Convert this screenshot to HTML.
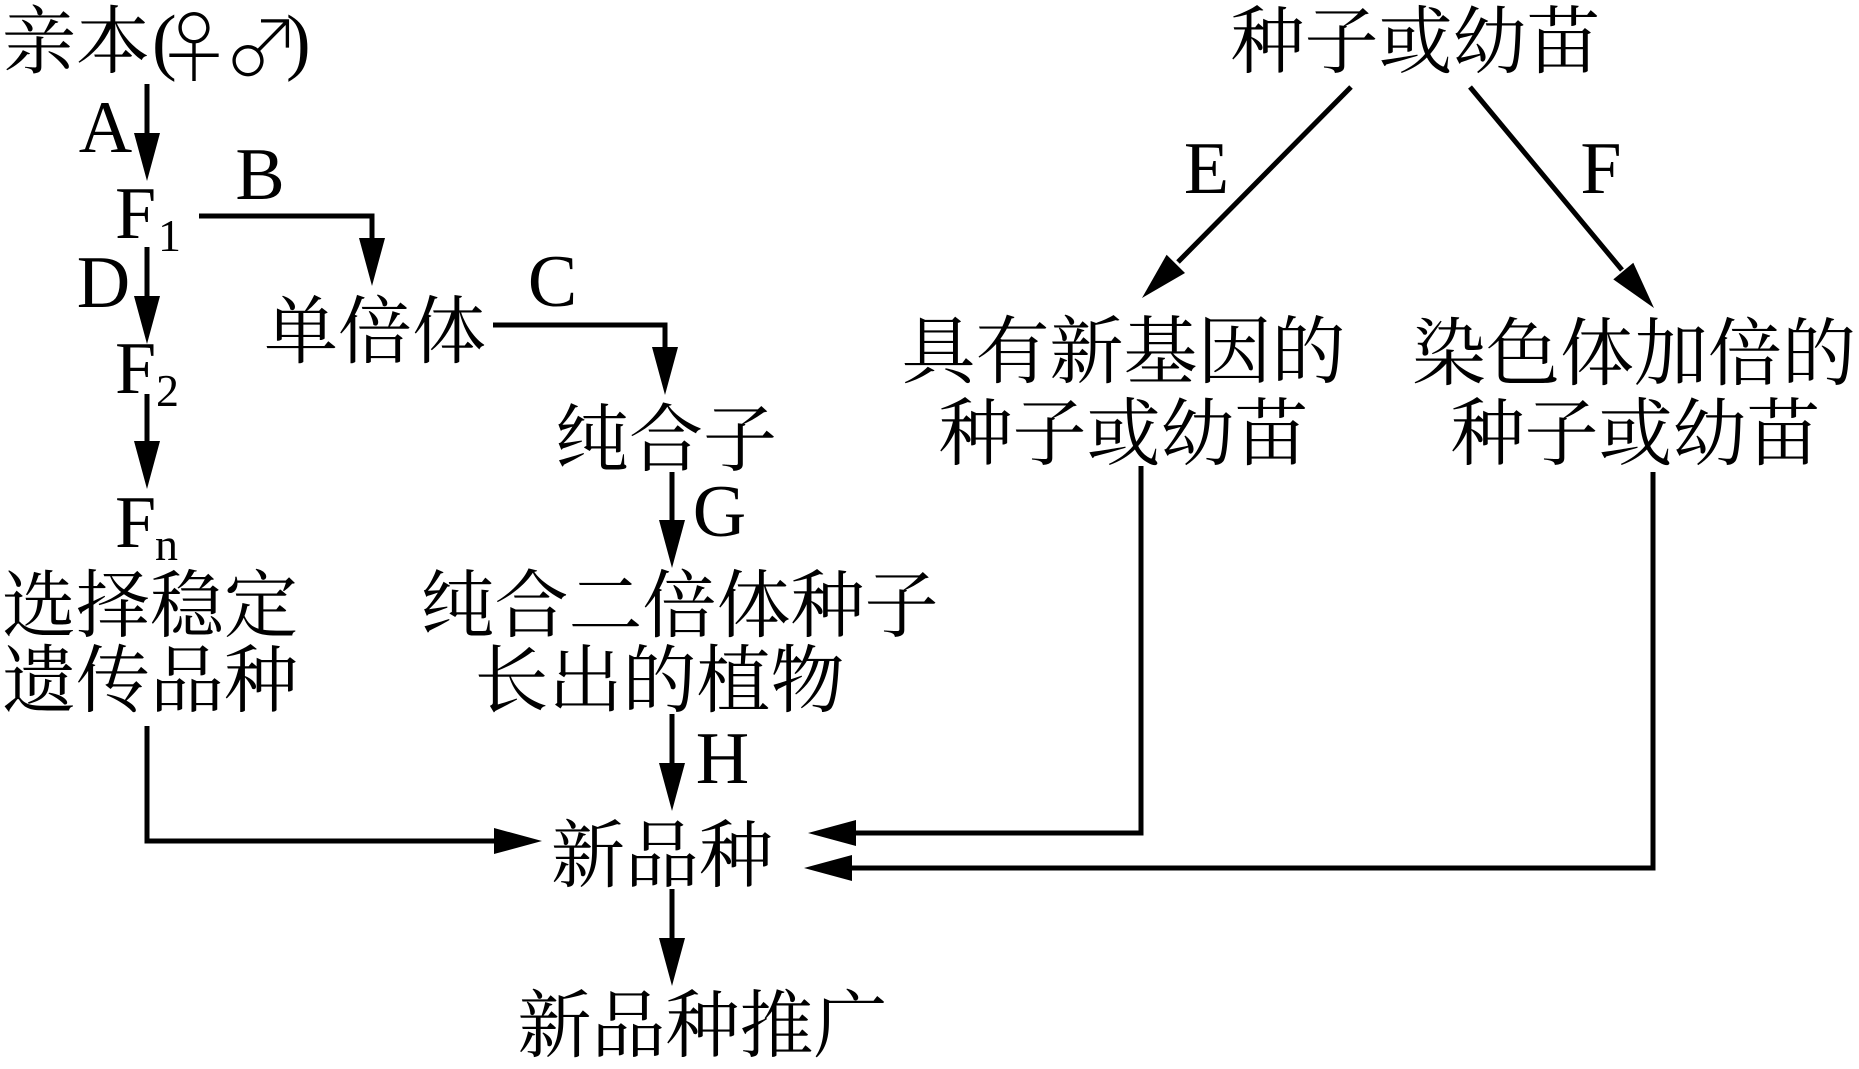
<!DOCTYPE html>
<html>
<head>
<meta charset="utf-8">
<style>
  html, body { margin:0; padding:0; background:#fff; }
  svg { display:block; }
  .cjk { font-family: "Liberation Serif", "Noto Serif CJK SC", serif; font-size:74px; fill:#000; }
  .lat { font-family: "Liberation Serif", serif; font-size:74px; fill:#000; }
  .sub { font-family: "Liberation Serif", serif; font-size:46px; fill:#000; }
  .sym { font-family: "Noto Serif CJK SC", "DejaVu Sans", serif; font-size:78px; fill:#000; }
</style>
</head>
<body>
<svg width="1859" height="1069" viewBox="0 0 1859 1069" xmlns="http://www.w3.org/2000/svg">
  <rect width="1859" height="1069" fill="#fff"/>

  <!-- ===== Left column ===== -->
  <text class="cjk" x="2" y="67">亲本</text>
  <text class="lat" x="152" y="66">(</text>
  <text class="sym" x="194" y="76" text-anchor="middle">♀</text>
  <text class="sym" x="262" y="76" text-anchor="middle">♂</text>
  <text class="lat" x="286" y="66">)</text>

  <!-- A arrow -->
  <line x1="147" y1="84" x2="147" y2="140" stroke="#000" stroke-width="5"/>
  <polygon points="134,133 160,133 147,181" fill="#000"/>
  <text class="lat" x="105.5" y="152" text-anchor="middle">A</text>

  <!-- F1 -->
  <text class="lat" x="115" y="238">F</text>
  <text class="sub" x="158" y="251">1</text>

  <!-- B arrow -->
  <polyline points="199,216 372,216 372,244" fill="none" stroke="#000" stroke-width="5"/>
  <polygon points="359,238 385,238 372,286" fill="#000"/>
  <text class="lat" x="260" y="199" text-anchor="middle">B</text>

  <!-- D arrow -->
  <line x1="147" y1="247" x2="147" y2="303" stroke="#000" stroke-width="5"/>
  <polygon points="134,296 160,296 147,344" fill="#000"/>
  <text class="lat" x="103.5" y="307" text-anchor="middle">D</text>

  <!-- F2 -->
  <text class="lat" x="115" y="393">F</text>
  <text class="sub" x="156" y="406">2</text>

  <!-- F2 -> Fn -->
  <line x1="147" y1="394" x2="147" y2="448" stroke="#000" stroke-width="5"/>
  <polygon points="134,441 160,441 147,489" fill="#000"/>

  <!-- Fn -->
  <text class="lat" x="115" y="547">F</text>
  <text class="sub" x="155" y="560">n</text>

  <text class="cjk" x="150" y="631" text-anchor="middle">选择稳定</text>
  <text class="cjk" x="150" y="706" text-anchor="middle">遗传品种</text>

  <!-- left bottom connector to 新品种 -->
  <polyline points="147,726 147,841 500,841" fill="none" stroke="#000" stroke-width="5"/>
  <polygon points="494,828 494,854 542,841" fill="#000"/>

  <!-- ===== Middle column ===== -->
  <text class="cjk" x="375" y="357" text-anchor="middle">单倍体</text>

  <!-- C arrow -->
  <polyline points="493,325 665,325 665,353" fill="none" stroke="#000" stroke-width="5"/>
  <polygon points="652,347 678,347 665,395" fill="#000"/>
  <text class="lat" x="552.5" y="306" text-anchor="middle">C</text>

  <text class="cjk" x="666" y="465" text-anchor="middle">纯合子</text>

  <!-- G arrow -->
  <line x1="672" y1="472" x2="672" y2="526" stroke="#000" stroke-width="5"/>
  <polygon points="659,520 685,520 672,568" fill="#000"/>
  <text class="lat" x="719.5" y="536" text-anchor="middle">G</text>

  <text class="cjk" x="679.5" y="631" text-anchor="middle">纯合二倍体种子</text>
  <text class="cjk" x="659.5" y="706" text-anchor="middle">长出的植物</text>

  <!-- H arrow -->
  <line x1="672" y1="714" x2="672" y2="770" stroke="#000" stroke-width="5"/>
  <polygon points="659,763 685,763 672,811" fill="#000"/>
  <text class="lat" x="722.5" y="783" text-anchor="middle">H</text>

  <text class="cjk" x="662" y="881" text-anchor="middle">新品种</text>

  <!-- 新品种 -> 推广 -->
  <line x1="672" y1="889" x2="672" y2="945" stroke="#000" stroke-width="5"/>
  <polygon points="659,938 685,938 672,986" fill="#000"/>

  <text class="cjk" x="702.5" y="1051" text-anchor="middle">新品种推广</text>

  <!-- ===== Right part ===== -->
  <text class="cjk" x="1415.5" y="67" text-anchor="middle">种子或幼苗</text>

  <!-- E arrow -->
  <line x1="1351" y1="87" x2="1178" y2="262" stroke="#000" stroke-width="5"/>
  <polygon points="1185,273 1166.6,254.8 1142,298" fill="#000"/>
  <text class="lat" x="1206.5" y="193" text-anchor="middle">E</text>

  <!-- F arrow -->
  <line x1="1470" y1="87" x2="1622" y2="270" stroke="#000" stroke-width="5"/>
  <polygon points="1613.3,279.4 1633.3,262.8 1654,308" fill="#000"/>
  <text class="lat" x="1601" y="193" text-anchor="middle">F</text>

  <text class="cjk" x="1123.5" y="377" text-anchor="middle">具有新基因的</text>
  <text class="cjk" x="1123.5" y="459" text-anchor="middle">种子或幼苗</text>

  <text class="cjk" x="1634" y="379" text-anchor="middle">染色体加倍的</text>
  <text class="cjk" x="1635.5" y="459" text-anchor="middle">种子或幼苗</text>

  <!-- right connectors to 新品种 -->
  <polyline points="1141,466 1141,833 850,833" fill="none" stroke="#000" stroke-width="5"/>
  <polygon points="856,820 856,846 808,833" fill="#000"/>

  <polyline points="1653,472 1653,868 846,868" fill="none" stroke="#000" stroke-width="5"/>
  <polygon points="852,855 852,881 804,868" fill="#000"/>
</svg>
</body>
</html>
